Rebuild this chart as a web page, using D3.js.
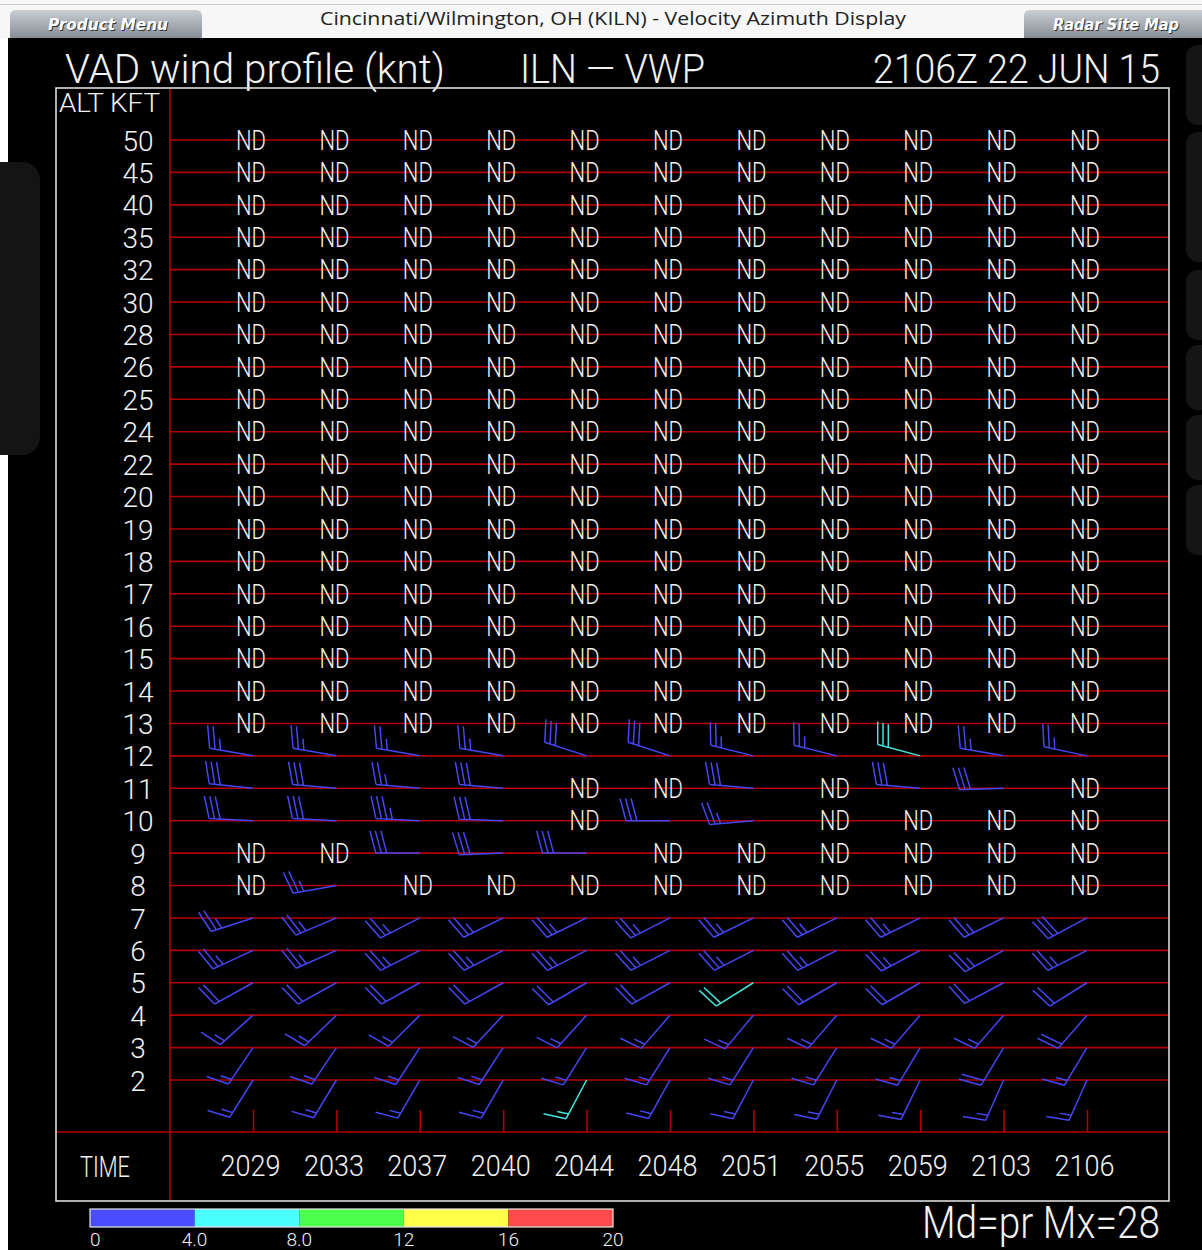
<!DOCTYPE html>
<html>
<head>
<meta charset="utf-8">
<script src="https://cdnjs.cloudflare.com/ajax/libs/d3/7.8.5/d3.min.js"></script>
<style>
  html, body { margin: 0; padding: 0; background: #fff; }
  svg { display: block; }
  .vec { font-family: "Roboto", "DejaVu Sans", sans-serif; font-weight: 300; fill: #f2f2f2; }
</style>
</head>
<body>
<script>

// chart values
var times = ["2029", "2033", "2037", "2040", "2044", "2048", "2051", "2055", "2059", "2103", "2106"];
var altitudes = [50, 45, 40, 35, 32, 30, 28, 26, 25, 24, 22, 20, 19, 18, 17, 16, 15, 14, 13, 12, 11, 10, 9, 8, 7, 6, 5, 4, 3, 2];

// rows with data (lower levels), everything else is ND
var barbAltitudes = [12, 11, 10, 9, 8, 7, 6, 5, 4, 3, 2];
var speeds = [
  [25, 25, 25, 25, 30, 30, 25, 25, 30, 25, 25],
  [30, 30, 25, 30, null, null, 30, null, 30, 30, null],
  [30, 30, 35, 30, null, 30, 25, null, null, null, null],
  [null, null, 30, 30, 30, null, null, null, null, null, null],
  [null, 25, null, null, null, null, null, null, null, null, null],
  [25, 25, 25, 25, 25, 25, 25, 25, 25, 25, 30],
  [25, 25, 25, 25, 25, 25, 25, 25, 25, 25, 25],
  [20, 20, 20, 20, 20, 20, 20, 20, 20, 20, 20],
  [15, 15, 15, 15, 15, 15, 15, 15, 15, 15, 20],
  [15, 15, 15, 15, 15, 15, 15, 15, 15, 20, 15],
  [15, 15, 15, 15, 15, 15, 15, 15, 15, 15, 15]
];
var directions = [
  [280, 280, 280, 280, 288, 288, 284, 284, 285, 280, 282],
  [276, 275, 275, 275, null, null, 275, null, 275, 268, null],
  [273, 273, 273, 272, null, 270, 265, null, null, null, null],
  [null, null, 270, 268, 270, null, null, null, null, null, null],
  [null, 260, null, null, null, null, null, null, null, null, null],
  [252, 247, 243, 244, 244, 243, 244, 244, 244, 244, 242],
  [245, 246, 243, 243, 243, 243, 243, 243, 242, 241, 243],
  [241, 241, 241, 241, 240, 241, 238, 240, 240, 242, 238],
  [228, 226, 225, 223, 222, 221, 220, 221, 221, 221, 221],
  [214, 214, 213, 213, 212, 212, 212, 212, 211, 211, 211],
  [212, 211, 210, 210, 208, 209, 208, 207, 206, 204, 204]
];
// cells whose rms falls in the 4-8 class (cyan), rest are 0-4 (blue)
var cyanCells = [["2059", 12], ["2051", 5], ["2044", 2]];

var colorStops = [0, 4, 8, 12, 16, 20];
var colorLabels = ["0", "4.0", "8.0", "12", "16", "20"];
var colorClasses = ["#4b4bff", "#4bffff", "#4bff4b", "#ffff4b", "#ff4b4b"];

var W = 1202, H = 1250;
var red = "#b30000";

var svg = d3.select("body").append("svg")
  .attr("width", W)
  .attr("height", H);

// page chrome
svg.append("rect").attr("width", W).attr("height", H).attr("fill", "#fff");
var hdr = svg.append("defs").append("linearGradient").attr("id", "tab").attr("x1", 0).attr("y1", 0).attr("x2", 0).attr("y2", 1);
hdr.append("stop").attr("offset", "0").attr("stop-color", "#c9ced3");
hdr.append("stop").attr("offset", "1").attr("stop-color", "#878d94");
svg.append("rect").attr("x", 0).attr("y", 0).attr("width", W).attr("height", 38).attr("fill", "#f7f7f7");
svg.append("line").attr("x1", 0).attr("x2", W).attr("y1", 4.5).attr("y2", 4.5).attr("stroke", "#c8c8c8");
svg.append("rect").attr("x", 8).attr("y", 38).attr("width", W - 8).attr("height", H - 38).attr("fill", "#000");

svg.append("path").attr("d", "M10,38 V16 Q10,10 16,10 H196 Q202,10 202,16 V38 Z").attr("fill", "url(#tab)");
svg.append("path").attr("d", "M1024,38 V16 Q1024,10 1030,10 H1202 V38 Z").attr("fill", "url(#tab)");
[["Product Menu", 108, 120], ["Radar Site Map", 1116, 126]].forEach(function(t) {
  svg.append("text").attr("x", t[1] + 1).attr("y", 31).attr("text-anchor", "middle")
    .style("font", "italic bold 16px 'DejaVu Sans', sans-serif").attr("fill", "#333")
    .attr("textLength", t[2]).attr("lengthAdjust", "spacingAndGlyphs").text(t[0]);
  svg.append("text").attr("x", t[1]).attr("y", 30).attr("text-anchor", "middle")
    .style("font", "italic bold 16px 'DejaVu Sans', sans-serif").attr("fill", "#fff")
    .attr("textLength", t[2]).attr("lengthAdjust", "spacingAndGlyphs").text(t[0]);
});
svg.append("text").attr("x", 613).attr("y", 25).attr("text-anchor", "middle")
  .style("font", "19px 'Open Sans', sans-serif").attr("fill", "#222")
  .attr("textLength", 586).attr("lengthAdjust", "spacingAndGlyphs")
  .text("Cincinnati/Wilmington, OH (KILN) - Velocity Azimuth Display");

// dim side panels behind the display
svg.append("rect").attr("x", -20).attr("y", 162).attr("width", 60).attr("height", 293).attr("rx", 18).attr("fill", "#141414");
[[45, 80], [132, 130], [270, 70], [345, 65], [415, 65], [485, 70]].forEach(function(p) {
  svg.append("rect").attr("x", 1186).attr("y", p[0]).attr("width", 40).attr("height", p[1]).attr("rx", 12).attr("fill", "#151515");
});

// scales
var x = d3.scalePoint().domain(times).range([253, 1087]);
var y = d3.scalePoint().domain(altitudes).range([140, 1080]);
var cb = d3.scaleLinear().domain([0, 20]).range([90, 613]);

// titles
function vtext(str, px, py, size, len, anchor) {
  return svg.append("text").attr("class", "vec").attr("x", px).attr("y", py)
    .attr("text-anchor", anchor || "start").style("font-size", size + "px")
    .attr("textLength", len).attr("lengthAdjust", "spacingAndGlyphs").text(str);
}
vtext("VAD wind profile (knt)", 65, 83, 40, 380);
vtext("ILN \u2014 VWP", 520, 83, 40, 185);
vtext("2106Z 22 JUN 15", 873, 83, 40, 287);
vtext("ALT KFT", 59, 112, 26, 101);
vtext("TIME", 80, 1177, 29, 50);
vtext("Md=pr Mx=28", 922, 1238, 44, 238);

// grid
svg.append("g").selectAll("line").data(altitudes).enter().append("line")
  .attr("x1", 170).attr("x2", 1169)
  .attr("y1", function(d) { return y(d); }).attr("y2", function(d) { return y(d); })
  .attr("stroke", red).attr("stroke-width", 1.6);
svg.append("line").attr("x1", 170).attr("x2", 170).attr("y1", 88).attr("y2", 1201).attr("stroke", red).attr("stroke-width", 1.6);
svg.append("line").attr("x1", 56).attr("x2", 1169).attr("y1", 1132).attr("y2", 1132).attr("stroke", red).attr("stroke-width", 1.6);

// altitude axis, labels centred in their column like the original
var yAxis = svg.append("g").attr("transform", "translate(170,0)")
  .call(d3.axisLeft(y).tickSize(0).tickPadding(32));
yAxis.select(".domain").remove();
yAxis.selectAll("text").attr("class", "vec").attr("fill", null)
  .attr("text-anchor", "middle")
  .style("font-size", "28px").attr("dy", "0.36em");

// time axis: red ticks above separator, labels below
var tTicks = svg.append("g").attr("transform", "translate(0,1132)")
  .call(d3.axisTop(x).tickSize(22).tickFormat(""));
tTicks.select(".domain").remove();
tTicks.selectAll("line").attr("stroke", red).attr("stroke-width", 1.6);

var tAxis = svg.append("g").attr("transform", "translate(-3,1132)")
  .call(d3.axisBottom(x).tickSize(0).tickPadding(23));
tAxis.select(".domain").remove();
tAxis.selectAll("text").attr("class", "vec").attr("fill", null)
  .style("font-size", "29px").attr("textLength", 60).attr("lengthAdjust", "spacingAndGlyphs");

// frame
svg.append("rect").attr("x", 56).attr("y", 88).attr("width", 1113).attr("height", 1113)
  .attr("fill", "none").attr("stroke", "#dcdcdc").attr("stroke-width", 1.6);

// cells
var cells = [];
altitudes.forEach(function(a) {
  var r = barbAltitudes.indexOf(a);
  times.forEach(function(t, c) {
    var s = r < 0 ? null : speeds[r][c];
    cells.push({ time: t, alt: a, speed: s, dir: r < 0 ? null : directions[r][c] });
  });
});

svg.append("g").selectAll("text").data(cells.filter(function(d) { return d.speed === null; }))
  .enter().append("text").attr("class", "vec")
  .attr("x", function(d) { return x(d.time) - 2; })
  .attr("y", function(d) { return y(d.alt); })
  .attr("dy", "0.36em").attr("text-anchor", "middle")
  .style("font-size", "27px")
  .attr("textLength", 30).attr("lengthAdjust", "spacingAndGlyphs")
  .text("ND");

// wind barbs
var staffLen = 44, fullLen = 23, halfLen = 11.5, gap = 5.5, tilt = 75 * Math.PI / 180;
function barbPath(d) {
  var x0 = x(d.time), y0 = y(d.alt);
  var a = d.dir * Math.PI / 180;
  var ux = Math.sin(a), uy = -Math.cos(a);
  var vx = ux * Math.cos(tilt) - uy * Math.sin(tilt);
  var vy = ux * Math.sin(tilt) + uy * Math.cos(tilt);
  var p = "M" + x0 + "," + y0 + "L" + (x0 + staffLen * ux) + "," + (y0 + staffLen * uy);
  var full = Math.floor(d.speed / 10), half = (d.speed % 10) >= 5 ? 1 : 0;
  var k = 0;
  for (var i = 0; i < full + half; i++, k++) {
    var len = i < full ? fullLen : halfLen;
    var bx = x0 + (staffLen - k * gap) * ux, by = y0 + (staffLen - k * gap) * uy;
    p += "M" + bx + "," + by + "L" + (bx + len * vx) + "," + (by + len * vy);
  }
  return p;
}
function isCyan(d) {
  return cyanCells.some(function(c) { return c[0] === d.time && c[1] === d.alt; });
}
svg.append("g").selectAll("path").data(cells.filter(function(d) { return d.speed !== null; }))
  .enter().append("path")
  .attr("d", barbPath)
  .attr("fill", "none")
  .attr("stroke", function(d) { return isCyan(d) ? "#44e4dc" : "#4646f4"; })
  .attr("stroke-width", 1.5);

// colour bar
var bar = svg.append("g");
bar.selectAll("rect").data(colorClasses).enter().append("rect")
  .attr("x", function(d, i) { return cb(colorStops[i]); })
  .attr("width", function(d, i) { return cb(colorStops[i + 1]) - cb(colorStops[i]); })
  .attr("y", 1209).attr("height", 18)
  .attr("fill", function(d) { return d; });
bar.append("rect").attr("x", cb(0)).attr("y", 1209).attr("width", cb(20) - cb(0)).attr("height", 18)
  .attr("fill", "none").attr("stroke", "#e6e6e6").attr("stroke-width", 1.2);
bar.selectAll("text").data(colorLabels).enter().append("text").attr("class", "vec")
  .attr("x", function(d, i) { return cb(colorStops[i]); })
  .attr("y", 1246).attr("text-anchor", function(d, i) { return i === 0 ? "start" : "middle"; })
  .style("font-size", "19px")
  .text(function(d) { return d; });

</script>
</body>
</html>
